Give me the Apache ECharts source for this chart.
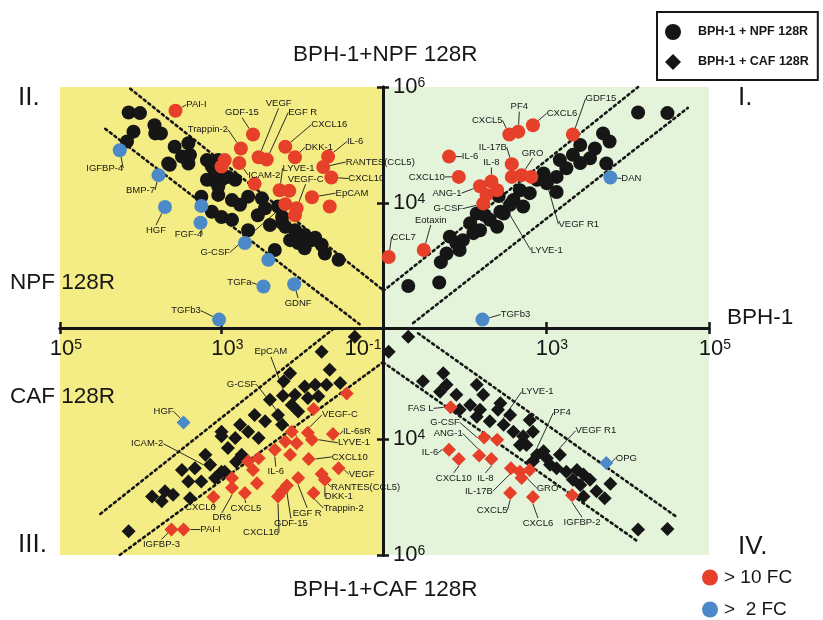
<!DOCTYPE html>
<html><head><meta charset="utf-8">
<script src="https://cdn.jsdelivr.net/npm/echarts@6/dist/echarts.min.js"></script>
<style>html,body{margin:0;padding:0;background:#fff}#chart{width:823px;height:620px}</style>
</head><body><div id="chart"></div>
<script>
// ---------- DATA (all values are log10 of the measured intensity: [x, y]) ----------
// Quadrant I  : BPH-1 (x) vs BPH-1+NPF 128R (y)
// Quadrant II : NPF 128R (x) vs BPH-1+NPF 128R (y)
// Quadrant III: CAF 128R (x) vs BPH-1+CAF 128R (y)
// Quadrant IV : BPH-1 (x) vs BPH-1+CAF 128R (y)

const q2Black = [[4.15,5.56],[4.01,5.55],[4.09,5.23],[4.17,5.06],[3.83,5.34],[3.75,5.20],[3.82,5.20],[3.58,4.97],[3.41,5.03],[3.39,4.83],[3.49,4.80],[3.64,4.66],[3.41,4.68],[3.18,4.74],[3.12,4.63],[3.12,4.40],[3.00,4.40],[3.08,4.52],[3.66,4.68],[3.25,4.11],[3.04,4.14],[3.12,3.85],[3.18,4.40],[3.04,4.28],[3.04,4.74],[2.92,4.45],[2.83,4.40],[2.87,4.05],[2.67,4.11],[2.50,4.08],[2.46,3.91],[2.30,3.94],[3.00,3.76],[2.87,3.71],[2.67,3.53],[2.25,3.76],[2.21,3.59],[2.09,3.53],[1.97,3.45],[1.88,3.36],[2.05,3.31],[1.76,3.28],[1.72,3.13],[1.55,3.02],[2.34,3.19],[2.25,3.66],[2.77,3.97],[2.55,3.79],[2.40,3.62],[2.15,3.36],[1.97,3.22],[1.84,3.40]];
const q2Red = [[3.57,5.59],[2.61,5.18],[2.76,4.94],[2.54,4.79],[2.44,4.75],[2.21,4.97],[2.09,4.79],[1.68,4.80],[1.74,4.62],[1.64,4.44],[2.78,4.69],[2.28,4.22],[2.16,4.21],[1.88,4.10],[1.66,3.94],[2.21,3.98],[2.07,3.91],[2.09,3.79],[2.96,4.74],[3.00,4.63],[2.59,4.33]];
const q2RedNames = ['PAI-I','GDF-15','Trappin-2','VEGF','EGF R','CXCL16','DKK-1','IL-6','RANTES(CCL5)','CXCL10','ICAM-2','LYVE-1','','EpCAM','','G-CSF','VEGF-C','','','',''];
const q2Blue = [[4.26,4.91],[3.78,4.48],[3.70,3.93],[3.25,3.95],[3.26,3.66],[2.71,3.31],[2.42,3.02],[2.48,2.56],[2.10,2.60],[3.03,1.99]];
const q2BlueNames = ['IGFBP-4','BMP-7','HGF','','FGF-4','','','TGFa','GDNF','TGFb3'];

const q1Black = [[1.31,2.57],[1.69,2.63],[1.82,3.42],[1.90,3.31],[1.78,3.13],[2.07,3.65],[2.19,3.53],[2.31,3.71],[2.40,3.59],[2.48,3.82],[2.60,4.05],[2.72,3.94],[2.80,4.17],[2.89,4.40],[2.97,4.51],[2.44,3.85],[2.15,3.82],[2.11,3.48],[4.13,5.56],[4.49,5.55],[3.70,5.20],[3.78,5.06],[3.42,5.00],[3.60,4.94],[3.33,4.83],[3.54,4.77],[3.74,4.68],[3.17,4.74],[3.13,4.45],[3.25,4.60],[3.13,4.19],[3.42,4.69],[1.98,3.36],[2.68,4.22],[2.56,3.97],[2.25,3.79],[1.94,3.19],[1.71,2.98]];
const q1BlackTagged = [[2.42,4.12],[3.01,4.34]];
const q1BlackTaggedNames = ['LYVE-1','VEGF R1'];
const q1Red = [[2.55,5.18],[2.66,5.23],[2.84,5.34],[1.81,4.80],[2.58,4.67],[1.93,4.45],[2.19,4.29],[2.33,4.37],[2.40,4.22],[2.27,4.14],[2.23,3.99],[2.58,4.45],[2.70,4.48],[2.82,4.45],[1.50,3.19],[1.07,3.07],[3.33,5.18]];
const q1RedNames = ['CXCL5','PF4','CXCL6','IL-6','IL-17B','CXCL10','ANG-1','IL-8','','','G-CSF','','GRO','','Eotaxin','CCL7','GDF15'];
const q1Blue = [[2.22,1.99],[3.79,4.44]];
const q1BlueNames = ['TGFb3','DAN'];

const q3Black = [[3.00,3.95],[3.49,4.53],[3.33,4.50],[3.41,4.73],[3.25,4.73],[3.08,4.67],[3.00,4.56],[3.86,4.99],[3.74,5.07],[3.70,4.90],[3.60,4.96],[3.39,5.02],[4.15,5.59],[1.35,2.23],[1.76,2.49],[2.15,2.86],[2.23,3.00],[1.97,3.09],[1.84,3.06],[1.70,3.06],[1.53,3.03],[2.09,3.23],[1.93,3.29],[1.80,3.26],[2.13,3.41],[2.30,3.58],[2.46,3.69],[2.67,3.87],[2.83,3.98],[3.00,3.87],[2.92,4.15],[2.05,3.52],[2.25,3.75],[2.54,3.98],[2.75,4.27],[2.96,4.56],[2.40,3.32],[2.59,3.58],[2.77,3.75],[3.20,4.27],[2.82,4.39],[1.66,2.80]];
const q3BlackTagged = [[3.14,4.44],[2.24,3.25]];
const q3BlackTaggedNames = ['ICAM-2','EpCAM'];
const q3Red = [[3.10,5.00],[3.62,5.56],[3.47,5.56],[1.45,3.21],[1.86,3.48],[1.93,3.89],[1.62,3.91],[1.88,4.01],[2.13,3.87],[2.21,4.04],[2.07,4.07],[2.34,4.18],[2.15,4.27],[1.92,4.34],[2.54,4.33],[2.67,4.38],[2.61,4.53],[1.55,4.50],[1.76,4.60],[1.72,4.70],[2.05,4.67],[2.19,4.80],[2.25,4.90],[2.30,4.99],[2.71,4.93],[2.56,4.76],[2.87,4.67],[2.87,4.84],[1.86,4.93]];
const q3RedNames = ['CXCL6','IGFBP-3','PAI-I','','','VEGF-C','IL-6sR','LYVE-1','','','G-CSF','IL-6','','CXCL10','','','','VEGF','RANTES(CCL5)','DKK-1','EGF R','GDF-15','','CXCL16','CXCL5','','','DR6','Trappin-2'];
const q3Blue = [[3.47,3.71]];
const q3BlueNames = ['HGF'];

const q4Black = [[1.31,2.23],[1.07,2.49],[1.49,3.00],[1.74,2.86],[1.78,3.06],[1.70,3.18],[1.90,3.23],[2.15,3.06],[2.23,3.23],[2.07,3.41],[2.19,3.49],[2.15,3.61],[2.44,3.38],[2.41,3.49],[2.31,3.69],[2.80,3.67],[2.60,3.87],[2.72,3.95],[2.84,3.87],[2.76,4.10],[2.97,4.21],[2.84,4.38],[3.01,4.33],[3.13,4.50],[3.25,4.56],[3.38,4.53],[3.46,4.61],[3.33,4.70],[3.54,4.70],[3.42,4.79],[3.46,4.99],[3.62,4.90],[3.72,5.02],[3.79,4.77],[4.13,5.56],[4.49,5.55],[1.94,3.49],[2.56,3.58],[2.68,4.10],[3.05,4.44]];
const q4BlackTagged = [[2.48,3.75],[2.89,4.27],[3.17,4.27]];
const q4BlackTaggedNames = ['LYVE-1','PF4','VEGF R1'];
const q4Red = [[1.83,3.45],[2.24,3.97],[2.40,4.01],[1.81,4.18],[1.93,4.34],[2.18,4.28],[2.33,4.34],[2.57,4.50],[2.68,4.56],[2.70,4.67],[2.80,4.53],[2.56,4.93],[2.84,5.00],[3.32,4.97]];
const q4RedNames = ['FAS L','G-CSF','','IL-6','CXCL10','ANG-1','IL-8','IL-17B','','GRO','','CXCL5','CXCL6','IGFBP-2'];
const q4Blue = [[3.74,4.41]];
const q4BlueNames = ['OPG'];

// dotted guide lines (log10 end points)
const q1Guides = [[[1.00,2.48],[4.13,6.00]], [[1.37,1.93],[4.74,5.64]]];
const q2Guides = [[[4.13,5.97],[1.00,2.50]], [[4.44,5.28],[1.29,1.91]]];
const q3Guides = [[[4.50,5.29],[1.62,2.10]], [[4.26,6.00],[1.00,2.67]]];
const q4Guides = [[[1.43,2.17],[4.62,5.36]], [[1.00,2.67],[4.13,5.77]]];

// axes
const xTicks = [1e3, 1e5];
const yTicks = [1e4, 1e6];
const xCenterTickLabel = '-1';

// ---------- LAYOUT / STYLE ----------
const FONT = '"Liberation Sans", Arial, Helvetica, sans-serif';
const INK = '#161616';
const RED = '#E6402B';
const BLUE = '#4C89C8';
const YELLOW = '#F4EC84';
const GREEN = '#E3F4DA';
const NPF = 'BPH-1 + NPF 128R';
const CAF = 'BPH-1 + CAF 128R';
const FC10 = '> 10 FC';
const FC2 = '>  2 FC';

const OFFS = {
  q2: {'PAI-I':[21,-6],'GDF-15':[-11,-22],'Trappin-2':[-33,-19],'VEGF':[20,-54],'EGF R':[36,-47],'CXCL16':[44,-22],'DKK-1':[24,-10],'IL-6':[27,-15],'RANTES(CCL5)':[57,-5],'CXCL10':[35,1],'ICAM-2':[25,12],'LYVE-1':[19,-22],'EpCAM':[40,-4],'VEGF-C':[9,-29],'G-CSF':[-70,48],'IGFBP-4':[-15,18],'BMP-7':[-18,15],'HGF':[-9,23],'FGF-4':[-12,12],'TGFa':[-24,-4],'GDNF':[4,19],'TGFb3':[-33,-9]},
  q1: {'PF4':[1,-25],'CXCL5':[-22,-14],'CXCL6':[29,-12],'GDF15':[28,-36],'IL-6':[21,0],'IL-17B':[-19,-17],'GRO':[11,-22],'IL-8':[0,-19],'CXCL10':[-32,0],'ANG-1':[-33,7],'G-CSF':[-35,5],'Eotaxin':[7,-30],'CCL7':[15,-20],'LYVE-1':[48,54],'VEGF R1':[32,41],'DAN':[21,1],'TGFb3':[33,-5]},
  q3: {'HGF':[-20,-11],'ICAM-2':[-63,-21],'CXCL6':[-13,10],'DR6':[-10,30],'PAI-I':[27,0],'IGFBP-3':[-10,15],'EpCAM':[-12,-44],'G-CSF':[-55,-59],'VEGF-C':[32,-18],'IL-6sR':[24,-3],'LYVE-1':[42,3],'CXCL10':[41,-2],'IL-6':[1,22],'VEGF':[23,6],'RANTES(CCL5)':[44,13],'DKK-1':[14,17],'Trappin-2':[30,15],'EGF R':[9,35],'GDF-15':[4,38],'CXCL16':[-17,36],'CXCL5':[1,15]},
  q4: {'FAS L':[-30,1],'G-CSF':[-39,-15],'ANG-1':[-31,-22],'IL-6':[-19,3],'CXCL10':[-5,19],'IL-8':[-6,19],'IL-17B':[-32,23],'CXCL5':[-18,17],'GRO':[26,10],'CXCL6':[5,26],'LYVE-1':[34,-33],'PF4':[25,-42],'VEGF R1':[36,-24],'OPG':[20,-5],'IGFBP-2':[10,27]}
};

const toVal = p => [Math.pow(10, p[0]), Math.pow(10, p[1])];

function scatter(name, grid, symbol, color, values, names, offsets, z) {
  const s = {
    type: 'scatter', name, xAxisIndex: grid, yAxisIndex: grid,
    symbol, symbolSize: 14, z: z, silent: true,
    itemStyle: {color, opacity: 1},
    emphasis: {disabled: true},
    data: values.map((p, i) => {
      const item = {value: toVal(p)};
      if (names && names[i]) { item.name = names[i]; item.label = {show: true}; }
      return item;
    }),
    label: {show: false, position: 'inside', formatter: '{b}', color: INK, fontSize: 9.5, fontFamily: FONT},
    labelLine: {show: true, lineStyle: {color: INK, width: 0.9}}
  };
  if (names) {
    s.labelLayout = function (params) {
      const n = names[params.dataIndex];
      const o = n && offsets[n];
      return o ? {dx: o[0], dy: o[1]} : {};
    };
  }
  return s;
}
function guides(grid, segs) {
  return segs.map(seg => ({
    type: 'line', xAxisIndex: grid, yAxisIndex: grid, silent: true, z: 1,
    symbol: 'none', data: seg.map(toVal),
    lineStyle: {color: INK, width: 2.6, type: [2.2, 3.6], cap: 'round'}
  }));
}

const rich = {
  gl: {width: 12},
  gr: {width: 40},
  b: {fontSize: 22, fontFamily: FONT, color: INK},
  s: {fontSize: 14, fontFamily: FONT, color: INK, verticalAlign: 'top'}
};
const lineStyle = {color: INK, width: 3};
const tickStyle = {color: INK, width: 2.5};

function xAx(grid, inverse, position, labelValues) {
  return {
    type: 'log', gridIndex: grid, inverse, min: 10, max: 1e5, position,
    axisLine: {show: true, lineStyle},
    axisTick: {show: true, customValues: xTicks, length: 6, lineStyle: tickStyle},
    axisLabel: labelValues ? {
      show: true, customValues: labelValues, margin: 10, rich,
      formatter: v => {
        if (Math.abs(v - 10) < 1e-6) return '{b|10}{s|' + xCenterTickLabel + '}{gr|}';
        return '{gl|}{b|10}{s|' + Math.round(Math.log10(v)) + '}';
      }
    } : {show: false},
    splitLine: {show: false}, minorTick: {show: false}, minorSplitLine: {show: false}
  };
}
function yAx(grid, inverse, position, min, labels) {
  return {
    type: 'log', gridIndex: grid, inverse, min, max: 1e6, position,
    axisLine: {show: true, lineStyle},
    axisTick: {show: true, customValues: yTicks, length: 6, lineStyle: tickStyle},
    axisLabel: labels ? {
      show: true, inside: true, customValues: yTicks, margin: 10, rich,
      formatter: v => '{b|10}{s|' + Math.round(Math.log10(v)) + '}'
    } : {show: false},
    splitLine: {show: false}, minorTick: {show: false}, minorSplitLine: {show: false}
  };
}

const gridBase = {show: true, borderWidth: 0, outerBoundsMode: 'none', containLabel: false};
const fcLegend = (name, top) => ({
  left: 702, top, orient: 'horizontal', selectedMode: false,
  data: [{name, icon: 'circle'}],
  itemWidth: 16, itemHeight: 16, padding: 0,
  textStyle: {fontSize: 19, color: INK, fontFamily: FONT, padding: [0, 0, 0, 1]}
});
const option = {
  animation: false,
  backgroundColor: '#ffffff',
  grid: [
    Object.assign({left: 60, top: 87, width: 323, height: 241, backgroundColor: YELLOW}, gridBase),
    Object.assign({left: 383, top: 87, width: 326, height: 241, backgroundColor: GREEN}, gridBase),
    Object.assign({left: 60, top: 328, width: 323, height: 227, backgroundColor: YELLOW}, gridBase),
    Object.assign({left: 383, top: 328, width: 326, height: 227, backgroundColor: GREEN}, gridBase)
  ],
  xAxis: [
    xAx(0, true, 'bottom', [1e5, 1e3, 10]),
    xAx(1, false, 'bottom', [1e3, 1e5]),
    xAx(2, true, 'top', null),
    xAx(3, false, 'top', null)
  ],
  yAxis: [
    yAx(0, false, 'right', 70, false),
    yAx(1, false, 'left', 70, true),
    yAx(2, true, 'right', 120, false),
    yAx(3, true, 'left', 120, true)
  ],
  legend: [
    {
      left: 657, top: 12, orient: 'vertical', selectedMode: false,
      data: [{name: NPF, icon: 'circle'}, {name: CAF, icon: 'diamond'}],
      itemWidth: 16, itemHeight: 16, itemGap: 14,
      borderColor: INK, borderWidth: 2, borderRadius: 0, padding: [12, 9, 10, 8],
      textStyle: {fontWeight: 'bold', fontSize: 12.5, color: INK, fontFamily: FONT, padding: [0, 0, 0, 12]}
    },
    fcLegend(FC10, 568),
    fcLegend(FC2, 600)
  ],
  graphic: [
    {type: 'text', left: 293, top: 43, style: {text: 'BPH-1+NPF 128R', font: '22.5px ' + FONT, fill: INK}},
    {type: 'text', left: 293, top: 578, style: {text: 'BPH-1+CAF 128R', font: '22.5px ' + FONT, fill: INK}},
    {type: 'text', left: 10, top: 271, style: {text: 'NPF 128R', font: '22.5px ' + FONT, fill: INK}},
    {type: 'text', left: 10, top: 385, style: {text: 'CAF 128R', font: '22.5px ' + FONT, fill: INK}},
    {type: 'text', left: 727, top: 306, style: {text: 'BPH-1', font: '22.5px ' + FONT, fill: INK}},
    {type: 'text', left: 18, top: 85, style: {text: 'II.', font: '26px ' + FONT, fill: INK}},
    {type: 'text', left: 738, top: 85, style: {text: 'I.', font: '26px ' + FONT, fill: INK}},
    {type: 'text', left: 18, top: 532, style: {text: 'III.', font: '26px ' + FONT, fill: INK}},
    {type: 'text', left: 738, top: 534, style: {text: 'IV.', font: '26px ' + FONT, fill: INK}}
  ],
  series: [].concat(
    guides(0, q2Guides), guides(1, q1Guides), guides(2, q3Guides), guides(3, q4Guides),
    [
      scatter(NPF, 0, 'circle', INK, q2Black, null, null, 3),
      scatter(FC10, 0, 'circle', RED, q2Red, q2RedNames, OFFS.q2, 4),
      scatter(FC2, 0, 'circle', BLUE, q2Blue, q2BlueNames, OFFS.q2, 4),
      scatter(NPF, 1, 'circle', INK, q1Black, null, null, 3),
      scatter(NPF, 1, 'circle', INK, q1BlackTagged, q1BlackTaggedNames, OFFS.q1, 3),
      scatter(FC10, 1, 'circle', RED, q1Red, q1RedNames, OFFS.q1, 4),
      scatter(FC2, 1, 'circle', BLUE, q1Blue, q1BlueNames, OFFS.q1, 4),
      scatter(CAF, 2, 'diamond', INK, q3Black, null, null, 3),
      scatter(CAF, 2, 'diamond', INK, q3BlackTagged, q3BlackTaggedNames, OFFS.q3, 3),
      scatter(FC10, 2, 'diamond', RED, q3Red, q3RedNames, OFFS.q3, 4),
      scatter(FC2, 2, 'diamond', BLUE, q3Blue, q3BlueNames, OFFS.q3, 4),
      scatter(CAF, 3, 'diamond', INK, q4Black, null, null, 3),
      scatter(CAF, 3, 'diamond', INK, q4BlackTagged, q4BlackTaggedNames, OFFS.q4, 3),
      scatter(FC10, 3, 'diamond', RED, q4Red, q4RedNames, OFFS.q4, 4),
      scatter(FC2, 3, 'diamond', BLUE, q4Blue, q4BlueNames, OFFS.q4, 4)
    ]
  )
};

const chart = echarts.init(document.getElementById('chart'), null, {renderer: 'canvas'});
chart.setOption(option);
</script></body></html>
